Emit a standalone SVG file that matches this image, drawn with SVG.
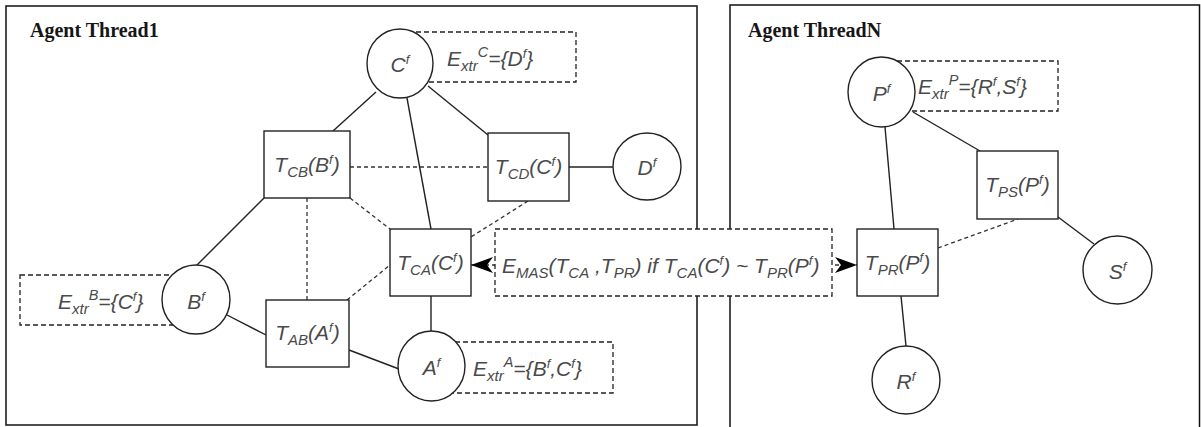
<svg xmlns="http://www.w3.org/2000/svg" width="1201" height="427" viewBox="0 0 1201 427">
  <style>
    .frame { fill: none; stroke: #111; stroke-width: 1.5; }
    .title { font-family: "Liberation Serif", "Times New Roman", serif; font-weight: bold; font-size: 20px; fill: #161616; }
    .node { fill: #fff; stroke: #222; stroke-width: 1.4; }
    .note { fill: #fff; stroke: #222; stroke-width: 1.3; stroke-dasharray: 5 3; }
    .lbl { font-family: "Liberation Sans", Arial, sans-serif; font-style: italic; font-size: 21px; fill: #4a4a4a; }
    .sb { font-size: 15px; }
    .sp { font-size: 13px; }
    .sc { font-size: 14.5px; }
    .edge { fill: none; stroke: #222; stroke-width: 1.4; }
    .dash { fill: none; stroke: #333; stroke-width: 1.3; stroke-dasharray: 4 3; }
  </style>
  <defs>
    <marker id="arrow" viewBox="0 0 22 16" refX="22" refY="8" markerWidth="22" markerHeight="16" markerUnits="userSpaceOnUse" orient="auto-start-reverse">
      <path d="M0,0 L22,8 L0,16 L6,8 Z" fill="#000"/>
    </marker>
  </defs>

  <!-- agent thread frames -->
  <g id="thread1">
    <rect class="frame" x="6" y="6" width="691" height="419"/>
    <text class="title" x="30" y="37">Agent Thread1</text>
  </g>
  <g id="threadN">
    <rect class="frame" x="730" y="5" width="469.5" height="440"/>
    <text class="title" x="748" y="37">Agent ThreadN</text>
  </g>

  <!-- connectors -->
  <g id="connectors">
    <line class="edge" x1="376" y1="92" x2="333" y2="131"/>
    <line class="edge" x1="428" y1="86" x2="488" y2="135"/>
    <line class="edge" x1="407" y1="98" x2="431" y2="229"/>
    <line class="edge" x1="569" y1="167" x2="613" y2="167"/>
    <line class="edge" x1="264" y1="198" x2="197" y2="265"/>
    <line class="edge" x1="227" y1="315" x2="266" y2="335"/>
    <line class="edge" x1="349" y1="350" x2="399" y2="369"/>
    <line class="edge" x1="431" y1="296" x2="431" y2="331"/>
    <line class="edge" x1="913" y1="112" x2="980" y2="151"/>
    <line class="edge" x1="885" y1="127" x2="894" y2="229"/>
    <line class="edge" x1="1058" y1="217" x2="1094" y2="244"/>
    <line class="edge" x1="901" y1="296" x2="906" y2="346"/>

    <line class="dash" x1="350" y1="167" x2="488" y2="167"/>
    <line class="dash" x1="307" y1="198" x2="307" y2="300"/>
    <line class="dash" x1="350" y1="198" x2="390" y2="229"/>
    <line class="dash" x1="347" y1="300" x2="390" y2="265"/>
    <line class="dash" x1="528" y1="201" x2="471" y2="237"/>
    <line class="dash" x1="938" y1="248" x2="1018" y2="219"/>
    <line class="dash" x1="471" y1="265" x2="857" y2="265" marker-start="url(#arrow)" marker-end="url(#arrow)"/>
  </g>

  <!-- extraction sets -->
  <g id="extr-C">
    <rect class="note" x="400" y="32" width="176" height="50"/>
    <text class="lbl" x="447" y="66">E<tspan class="sb" dy="5">xtr</tspan><tspan class="sc" dy="-14">C</tspan><tspan dy="9">={D</tspan><tspan class="sp" dy="-8">f</tspan><tspan dy="8">}</tspan></text>
  </g>
  <g id="extr-B">
    <rect class="note" x="20" y="275" width="176" height="50"/>
    <text class="lbl" x="58" y="309">E<tspan class="sb" dy="5">xtr</tspan><tspan class="sc" dy="-14">B</tspan><tspan dy="9">={C</tspan><tspan class="sp" dy="-8">f</tspan><tspan dy="8">}</tspan></text>
  </g>
  <g id="extr-A">
    <rect class="note" x="431" y="342" width="182" height="51"/>
    <text class="lbl" x="473" y="376">E<tspan class="sb" dy="5">xtr</tspan><tspan class="sc" dy="-14">A</tspan><tspan dy="9">={B</tspan><tspan class="sp" dy="-8">f</tspan><tspan dy="8">,C</tspan><tspan class="sp" dy="-8">f</tspan><tspan dy="8">}</tspan></text>
  </g>
  <g id="extr-P">
    <rect class="note" x="881" y="61" width="177" height="50"/>
    <text class="lbl" x="918" y="94">E<tspan class="sb" dy="5">xtr</tspan><tspan class="sc" dy="-14">P</tspan><tspan dy="9">={R</tspan><tspan class="sp" dy="-8">f</tspan><tspan dy="8">,S</tspan><tspan class="sp" dy="-8">f</tspan><tspan dy="8">}</tspan></text>
  </g>
  <g id="e-mas">
    <rect class="note" x="495" y="229" width="337" height="67"/>
    <text class="lbl" x="502" y="273">E<tspan class="sb" dy="5">MAS</tspan><tspan dy="-5">(T</tspan><tspan class="sb" dy="5">CA</tspan><tspan dy="-5"> ,T</tspan><tspan class="sb" dy="5">PR</tspan><tspan dy="-5">) if T</tspan><tspan class="sb" dy="5">CA</tspan><tspan dy="-5">(C</tspan><tspan class="sp" dy="-8">f</tspan><tspan dy="8">) ~ T</tspan><tspan class="sb" dy="5">PR</tspan><tspan dy="-5">(P</tspan><tspan class="sp" dy="-8">f</tspan><tspan dy="8">)</tspan></text>
  </g>

  <!-- factor nodes -->
  <g id="C">
    <ellipse class="node" cx="400" cy="63.5" rx="33" ry="34.5"/>
    <text class="lbl" x="400" y="72" text-anchor="middle">C<tspan class="sp" dy="-8">f</tspan></text>
  </g>
  <g id="D">
    <ellipse class="node" cx="647" cy="166.5" rx="34" ry="33.5"/>
    <text class="lbl" x="647" y="175" text-anchor="middle">D<tspan class="sp" dy="-8">f</tspan></text>
  </g>
  <g id="B">
    <ellipse class="node" cx="196" cy="299.5" rx="34" ry="34.5"/>
    <text class="lbl" x="196" y="309" text-anchor="middle">B<tspan class="sp" dy="-8">f</tspan></text>
  </g>
  <g id="A">
    <ellipse class="node" cx="431.5" cy="366" rx="33.5" ry="35"/>
    <text class="lbl" x="431.5" y="375" text-anchor="middle">A<tspan class="sp" dy="-8">f</tspan></text>
  </g>
  <g id="P">
    <ellipse class="node" cx="881.5" cy="92" rx="33.5" ry="35"/>
    <text class="lbl" x="881.5" y="101" text-anchor="middle">P<tspan class="sp" dy="-8">f</tspan></text>
  </g>
  <g id="S">
    <ellipse class="node" cx="1117.5" cy="270" rx="34.5" ry="34"/>
    <text class="lbl" x="1117.5" y="279" text-anchor="middle">S<tspan class="sp" dy="-8">f</tspan></text>
  </g>
  <g id="R">
    <ellipse class="node" cx="906" cy="380" rx="34" ry="34"/>
    <text class="lbl" x="906" y="389" text-anchor="middle">R<tspan class="sp" dy="-8">f</tspan></text>
  </g>

  <!-- transition nodes -->
  <g id="T-CB">
    <rect class="node" x="264" y="131" width="86" height="67"/>
    <text class="lbl" x="307" y="172" text-anchor="middle">T<tspan class="sb" dy="5">CB</tspan><tspan dy="-5">(B</tspan><tspan class="sp" dy="-8">f</tspan><tspan dy="8">)</tspan></text>
  </g>
  <g id="T-CD">
    <rect class="node" x="488" y="133" width="81" height="68"/>
    <text class="lbl" x="528.5" y="174" text-anchor="middle">T<tspan class="sb" dy="5">CD</tspan><tspan dy="-5">(C</tspan><tspan class="sp" dy="-8">f</tspan><tspan dy="8">)</tspan></text>
  </g>
  <g id="T-CA">
    <rect class="node" x="390" y="229" width="81" height="67"/>
    <text class="lbl" x="430.5" y="270" text-anchor="middle">T<tspan class="sb" dy="5">CA</tspan><tspan dy="-5">(C</tspan><tspan class="sp" dy="-8">f</tspan><tspan dy="8">)</tspan></text>
  </g>
  <g id="T-AB">
    <rect class="node" x="266" y="300" width="83" height="67"/>
    <text class="lbl" x="307.5" y="340" text-anchor="middle">T<tspan class="sb" dy="5">AB</tspan><tspan dy="-5">(A</tspan><tspan class="sp" dy="-8">f</tspan><tspan dy="8">)</tspan></text>
  </g>
  <g id="T-PS">
    <rect class="node" x="977" y="151" width="81" height="68"/>
    <text class="lbl" x="1017.5" y="192" text-anchor="middle">T<tspan class="sb" dy="5">PS</tspan><tspan dy="-5">(P</tspan><tspan class="sp" dy="-8">f</tspan><tspan dy="8">)</tspan></text>
  </g>
  <g id="T-PR">
    <rect class="node" x="857" y="229" width="81" height="67"/>
    <text class="lbl" x="897.5" y="270" text-anchor="middle">T<tspan class="sb" dy="5">PR</tspan><tspan dy="-5">(P</tspan><tspan class="sp" dy="-8">f</tspan><tspan dy="8">)</tspan></text>
  </g>
</svg>
